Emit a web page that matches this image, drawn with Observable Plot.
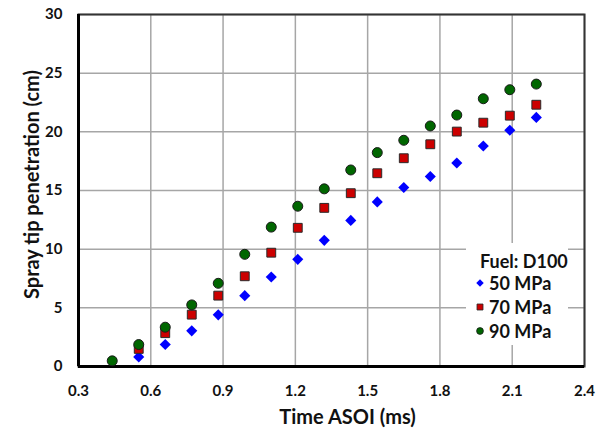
<!DOCTYPE html>
<html>
<head>
<meta charset="utf-8">
<script src="https://cdn.jsdelivr.net/npm/d3@7"></script>
<script src="https://cdn.jsdelivr.net/npm/@observablehq/plot@0.6"></script>
<style>
  html, body { margin: 0; padding: 0; background: #fff; }
  #wrap { position: relative; width: 607px; height: 430px; font-family: Lato, sans-serif; }
  #legend { position: absolute; left: 466px; top: 243px; width: 102px; height: 102px; background: #fff;
            font-family: Lato, sans-serif; font-weight: bold; font-size: 18px; color: #111; }
  #legend .title { position: absolute; left: 14px; top: 7px; white-space: nowrap; }
  #legend .row { position: absolute; left: 9px; height: 22px; display: flex; align-items: center; white-space: nowrap; }
  #legend svg { margin-right: 4px; }
</style>
</head>
<body>
<div id="wrap"><div id="legend"></div></div>
<script>
const times = [0.44, 0.55, 0.66, 0.77, 0.88, 0.99, 1.10, 1.21, 1.32, 1.43, 1.54, 1.65, 1.76, 1.87, 1.98, 2.09, 2.20];
const p50 = [null, 0.82, 1.87, 3.04, 4.40, 6.04, 7.63, 9.13, 10.75, 12.45, 14.03, 15.26, 16.19, 17.35, 18.79, 20.13, 21.23];
const p70 = [null, 1.50, 2.84, 4.42, 6.04, 7.69, 9.70, 11.82, 13.52, 14.77, 16.47, 17.75, 18.94, 20.02, 20.78, 21.38, 22.31];
const p90 = [0.48, 1.87, 3.35, 5.25, 7.09, 9.56, 11.88, 13.66, 15.14, 16.75, 18.23, 19.28, 20.50, 21.43, 22.82, 23.59, 24.07];
const seriesNames = ["50 MPa", "70 MPa", "90 MPa"];
const xTicks = [0.3, 0.6, 0.9, 1.2, 1.5, 1.8, 2.1, 2.4];
const yTicks = [0, 5, 10, 15, 20, 25, 30];
const legendTitle = "Fuel: D100";

const styles = {
  "50 MPa": {symbol: "diamond2", fill: "#0000ff", stroke: "none"},
  "70 MPa": {symbol: "square", fill: "#cc0000", stroke: "#2a2a2a"},
  "90 MPa": {symbol: "circle", fill: "#006600", stroke: "#1a1a1a"}
};

const rows = [];
[p50, p70, p90].forEach((vals, k) => {
  vals.forEach((v, i) => { if (v != null) rows.push({t: times[i], s: v, series: seriesNames[k]}); });
});

const dotMarks = seriesNames.map(name => Plot.dot(rows.filter(d => d.series === name), {
  x: "t", y: "s", r: 5, symbol: () => styles[name].symbol,
  fill: styles[name].fill, stroke: styles[name].stroke, strokeWidth: 1
}));

const chart = Plot.plot({
  width: 607, height: 430,
  marginLeft: 78, marginRight: 23, marginTop: 14, marginBottom: 64,
  style: {fontFamily: "Lato, sans-serif", fontWeight: "bold", color: "#111", background: "#fff"},
  x: {domain: [0.3, 2.4]},
  y: {domain: [0, 30]},
  symbol: {type: "identity"},
  marks: [
    Plot.gridX(xTicks, {stroke: "#a6a6a6", strokeOpacity: 1, strokeWidth: 1.5}),
    Plot.gridY(yTicks, {stroke: "#a6a6a6", strokeOpacity: 1, strokeWidth: 1.5}),
    Plot.frame({stroke: "#333", strokeWidth: 2}),
    Plot.ruleX([0.3], {stroke: "#000", strokeWidth: 3}),
    Plot.ruleY([0], {stroke: "#000", strokeWidth: 3}),
    Plot.axisX(xTicks, {tickSize: 0, tickPadding: 19, fontSize: 15, tickFormat: d => d.toFixed(1),
      label: "Time ASOI (ms)", labelAnchor: "center", labelArrow: "none", labelOffset: 54}),
    Plot.axisY(yTicks, {tickSize: 0, tickPadding: 16, fontSize: 15,
      label: "Spray tip penetration (cm)", labelAnchor: "center", labelArrow: "none", labelOffset: 54}),
    ...dotMarks
  ]
});
chart.querySelectorAll("[aria-label='x-axis label'], [aria-label='y-axis label']").forEach(g => {
  g.setAttribute("font-size", "20");
  g.querySelectorAll("text").forEach(t => t.setAttribute("font-size", "20"));
});
const xl = chart.querySelector("[aria-label='x-axis label']");
if (xl) xl.setAttribute("transform", "translate(16,3) " + (xl.getAttribute("transform") || ""));
const yl = chart.querySelector("[aria-label='y-axis label']");
if (yl) yl.setAttribute("transform", "translate(0,-6) " + (yl.getAttribute("transform") || ""));
document.getElementById("wrap").prepend(chart);

// legend
const legend = document.getElementById("legend");
const tdiv = document.createElement("div");
tdiv.className = "title"; tdiv.textContent = legendTitle; legend.appendChild(tdiv);
const symMap = {diamond2: d3.symbolDiamond2, square: d3.symbolSquare, circle: d3.symbolCircle};
seriesNames.forEach((name, i) => {
  const st = styles[name];
  const row = document.createElement("div");
  row.className = "row"; row.style.top = (29 + i * 24) + "px";
  const svg = d3.create("svg").attr("width", 10).attr("height", 10);
  svg.append("path").attr("transform", "translate(5,5)")
    .attr("d", d3.symbol(symMap[st.symbol], 36)())
    .attr("fill", st.fill).attr("stroke", st.stroke === "none" ? null : st.stroke).attr("stroke-width", 0.8);
  row.appendChild(svg.node());
  const sp = document.createElement("span"); sp.textContent = name; row.appendChild(sp);
  legend.appendChild(row);
});
</script>
</body>
</html>
